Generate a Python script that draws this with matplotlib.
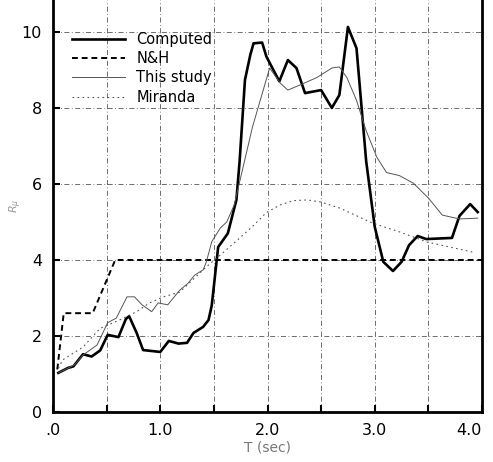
import matplotlib
matplotlib.use("Agg")
import matplotlib.pyplot as plt

# Data
comp_x = [0.05, 0.14, 0.19, 0.28, 0.36, 0.44, 0.51, 0.61, 0.68, 0.71, 0.78, 0.84, 1.0, 1.08, 1.17, 1.25, 1.31,
          1.40, 1.45, 1.48, 1.54, 1.63, 1.71, 1.74, 1.79, 1.84, 1.87, 1.95, 1.99, 2.11, 2.19, 2.27, 2.35, 2.50,
          2.60, 2.67, 2.75, 2.83, 2.92, 3.0, 3.08, 3.17, 3.25, 3.32, 3.40, 3.48, 3.72, 3.79, 3.89, 3.96]
comp_y = [1.03, 1.16, 1.2, 1.52, 1.46, 1.62, 2.03, 1.97, 2.45, 2.52, 2.08, 1.63, 1.58, 1.87, 1.8, 1.82, 2.08,
          2.24, 2.42, 2.8, 4.34, 4.7, 5.58, 6.6, 8.74, 9.4, 9.7, 9.72, 9.35, 8.7, 9.26, 9.05, 8.39, 8.47,
          8.0, 8.34, 10.13, 9.57, 6.6, 4.87, 3.95, 3.71, 3.95, 4.39, 4.63, 4.55, 4.58, 5.16, 5.47, 5.26]

nh_x = [0.04, 0.10, 0.37, 0.58, 4.0]
nh_y = [1.12, 2.6, 2.6, 4.0, 4.0]

study_x = [0.05, 0.2, 0.28, 0.41, 0.51, 0.59, 0.69, 0.76, 0.83, 0.92, 0.98, 1.07, 1.18, 1.26, 1.32, 1.40,
           1.43, 1.48, 1.56, 1.62, 1.69, 1.86, 2.02, 2.12, 2.19, 2.30, 2.46, 2.6, 2.67, 2.74, 2.83, 2.92,
           3.02, 3.11, 3.23, 3.36, 3.5, 3.63, 3.79, 3.96]
study_y = [1.03, 1.24, 1.5, 1.76, 2.35, 2.47, 3.03, 3.03, 2.82, 2.64, 2.87, 2.82, 3.2, 3.39, 3.6, 3.74,
           3.95, 4.48, 4.84, 5.0, 5.45, 7.5, 9.05, 8.65, 8.47, 8.6, 8.8, 9.05, 9.08, 8.8, 8.2, 7.4,
           6.7, 6.3, 6.22, 6.02, 5.63, 5.18, 5.08, 5.1]

mir_x = [0.05, 0.09, 0.28, 0.44, 0.62, 0.78, 0.9, 1.03, 1.18, 1.37, 1.43, 1.54, 1.71, 1.86, 1.99, 2.12,
         2.24, 2.37, 2.49, 2.67, 2.98, 3.23, 3.49, 3.91]
mir_y = [1.15, 1.37, 1.71, 2.2, 2.42, 2.64, 2.87, 3.03, 3.15, 3.66, 3.82, 4.08, 4.5, 4.88, 5.25, 5.45,
         5.56, 5.58, 5.53, 5.37, 4.97, 4.74, 4.47, 4.21]

x_ticks = [0, 0.5, 1, 1.5, 2, 2.5, 3, 3.5, 4]
x_ticklabels = [".0", "", "1.0", "", "2.0", "", "3.0", "", "4.0"]
y_ticks = [0, 2, 4, 6, 8, 10]
y_ticklabels = ["0", "2", "4", "6", "8", "10"]

fig = plt.figure(figsize=(4.93, 4.62), dpi=100)
ax = fig.add_axes([53 / 493, 50 / 462, (482 - 53) / 493, 412 / 462])

ax.plot(comp_x, comp_y, color="black", lw=1.9, label="Computed")
ax.plot(nh_x, nh_y, color="black", lw=1.4, ls=(0, (3, 2)), label="N&H")
ax.plot(study_x, study_y, color="#555555", lw=0.7, label="This study")
ax.plot(mir_x, mir_y, color="#555555", lw=0.8, ls=(0, (1.5, 3)), label="Miranda")

ax.set_xlim(0, 4)
ax.set_ylim(0, 10.84)
ax.set_xticks(x_ticks)
ax.set_xticklabels(x_ticklabels)
ax.set_yticks(y_ticks)
ax.set_yticklabels(y_ticklabels)
ax.tick_params(direction="in", length=5, width=1.5, labelsize=11.5, pad=8)
# keep the last x label inside the figure
ax.get_xticklabels()[-1].set_horizontalalignment("right")
ax.get_xticklabels()[-1].set_x(4.0)

for s in ["left", "bottom", "right"]:
    ax.spines[s].set_linewidth(2.0)
ax.spines["top"].set_visible(False)

for gx in [0.5, 1, 1.5, 2, 2.5, 3, 3.5]:
    ax.axvline(gx, color="#555555", lw=0.6, ls=(0, (6, 3, 1, 3)), zorder=0)
for gy in [2, 4, 6, 8, 10]:
    ax.axhline(gy, color="#555555", lw=0.6, ls=(0, (6, 3, 1, 3)), zorder=0)

ax.set_xlabel("T (sec)", color="#777777", fontsize=10, labelpad=2)
fig.text(16 / 493, 1 - 206 / 462, r"$R_\mu$", color="#999999", fontsize=8,
         rotation=90, ha="center", va="center")

ax.legend(loc="upper left", bbox_to_anchor=(0.014, 0.955), frameon=False, fontsize=10.5,
          handlelength=3.6, handletextpad=0.8, labelspacing=0.3)

fig.savefig("out.png", dpi=100)
